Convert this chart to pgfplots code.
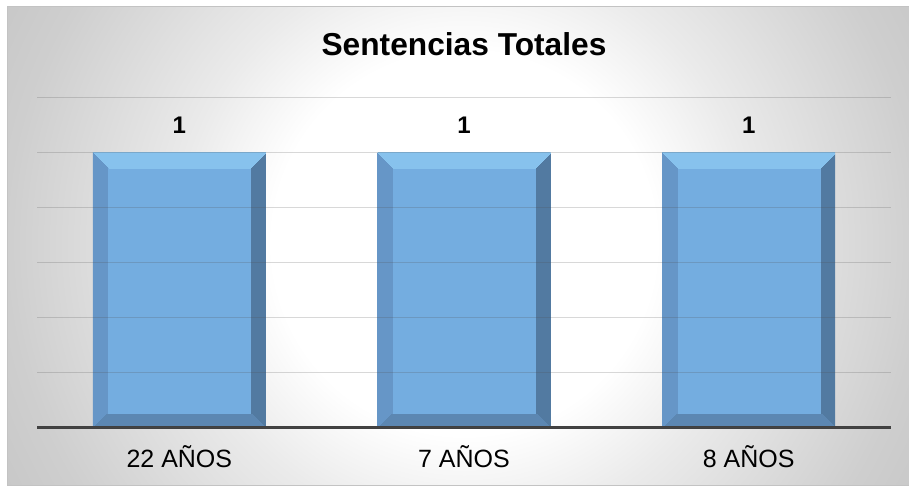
\documentclass[border=0pt]{standalone}
\usepackage{pgfplots}
\pgfplotsset{compat=1.18}
\usepackage{fontspec}
\setmainfont{Liberation Sans}

\definecolor{gridc}{RGB}{80,80,80}
\definecolor{basec}{RGB}{64,64,64}
\definecolor{framec}{RGB}{195,195,195}

% bevelled bar: TikZ maps the bar box onto 25bp..75bp of the shading
\pgfdeclarefunctionalshading{bevel}{\pgfpoint{0bp}{0bp}}{\pgfpoint{100bp}{100bp}}{}{
  25 sub 5.48 mul exch 25 sub 3.46 mul
  dup 173 exch sub
  2 copy 2 copy gt {exch} if pop
  3 index 274 exch sub
  2 copy gt exch 16 lt and
  { pop pop pop pop 0.53 0.76 0.93 }
  { 3 index 2 copy gt exch 14 lt and
    { pop pop pop pop 0.36 0.53 0.70 }
    { dup 15 lt
      { pop lt { pop 0.40 0.59 0.78 } { pop 0.32 0.48 0.63 } ifelse }
      { pop pop pop pop 0.455 0.68 0.88 } ifelse
    } ifelse
  } ifelse
}
\pgfdeclareradialshading{chartbg}{\pgfpoint{0bp}{0bp}}{color(0bp)=(white); color(8bp)=(white); color(12bp)=(black!8); color(19bp)=(black!19); color(22bp)=(black!22); color(50bp)=(black!30)}

\begin{document}
\begin{tikzpicture}[x=1pt,y=1pt]
  \useasboundingbox (0,0) rectangle (909,487);
  \fill[white] (0,0) rectangle (909,487);
  \begin{scope}
    \clip (7,2) rectangle (909,480);
    \shade[shading=chartbg] (464,244) circle (600);
  \end{scope}
  \draw[framec, line width=1pt] (911,480) -- (7,480) -- (7,2) -- (911,2);

  \node[anchor=base, font=\bfseries\fontsize{31.7}{36}\selectfont] at (464,431) {Sentencias Totales};

  \begin{axis}[
    at={(37pt,60pt)}, anchor=south west,
    scale only axis, width=854pt, height=329pt,
    xmin=-0.5, xmax=2.5, ymin=0, ymax=1.2,
    ybar, bar width=173pt,
    xtick={0,1,2},
    xticklabels={22 AÑOS,7 AÑOS,8 AÑOS},
    ytick={0,0.2,0.4,0.6,0.8,1.0,1.2},
    yticklabels={},
    ymajorgrids,
    axis on top,
    grid style={gridc, opacity=0.22, line width=1pt},
    axis line style={draw=none},
    major tick length=0pt,
    xticklabel style={font=\fontsize{25}{29}\selectfont, anchor=base, yshift=-40pt, inner sep=0pt},
    clip=false,
    /pgf/number format/assume math mode=true,
    nodes near coords,
    nodes near coords style={font=\bfseries\fontsize{24}{28}\selectfont, text=black, anchor=base, inner sep=0pt, yshift=19pt},
  ]
    \addplot[shade, shading=bevel, draw=none, bar shift=0pt] coordinates {(0,1)};
    \addplot[shade, shading=bevel, draw=none, bar shift=0pt] coordinates {(1,1)};
    \addplot[shade, shading=bevel, draw=none, bar shift=0pt] coordinates {(2,1)};
    \draw[basec, line width=3pt] (rel axis cs:0,0) -- (rel axis cs:1,0);
  \end{axis}
\end{tikzpicture}
\end{document}
